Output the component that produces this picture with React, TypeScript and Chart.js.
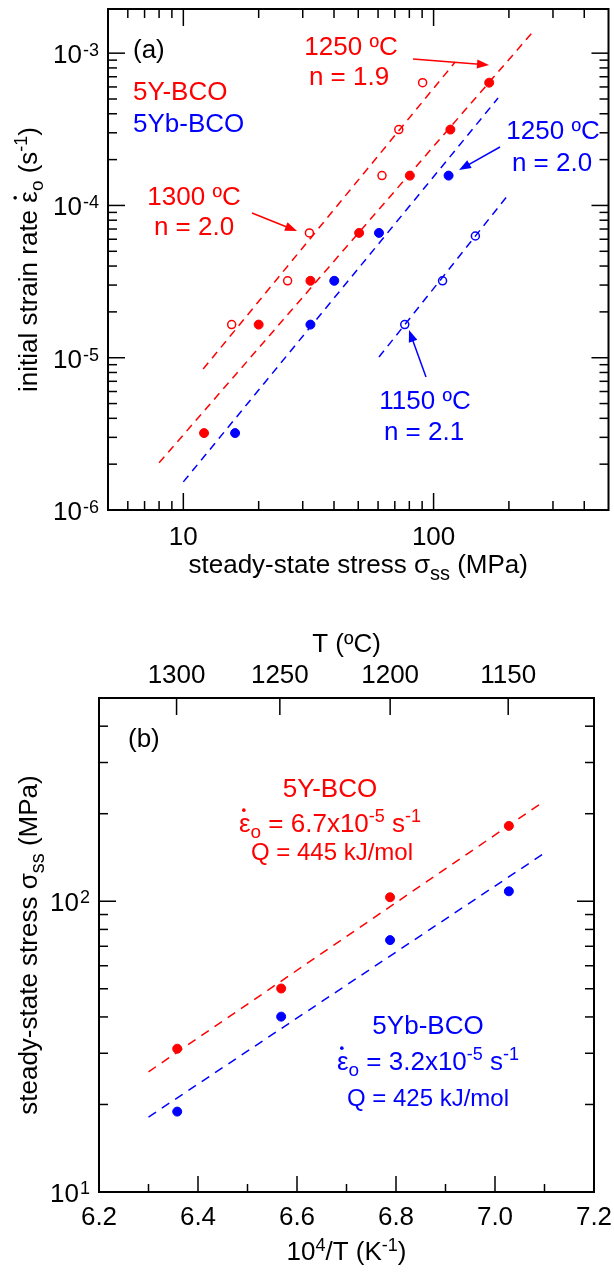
import React, { useEffect, useRef } from 'react';
import { Chart, registerables } from 'chart.js';

Chart.register(...registerables);

const FONT = '"Liberation Sans", Arial, Helvetica, sans-serif';
const RED = '#ff0000';
const BLUE = '#0000ff';
const BASE = 26;
const SUP = 18;

// ---------------- Panel (a): strain rate vs stress ----------------
const aY1250Stress = [12.1, 20.0, 32.2, 50.4, 80.4, 116.7, 166.8];
const aY1250Rate = [3.2e-6, 1.65e-5, 3.2e-5, 6.6e-5, 1.57e-4, 3.15e-4, 6.4e-4];
const aY1300Stress = [15.6, 26.1, 31.9, 62.2, 72.6, 90.4];
const aY1300Rate = [1.65e-5, 3.2e-5, 6.6e-5, 1.57e-4, 3.15e-4, 6.4e-4];
const aYb1250Stress = [16.1, 32.2, 40.1, 60.5, 114.8];
const aYb1250Rate = [3.2e-6, 1.65e-5, 3.2e-5, 6.6e-5, 1.57e-4];
const aYb1150Stress = [76.7, 108.6, 146.9];
const aYb1150Rate = [1.65e-5, 3.2e-5, 6.3e-5];

// fitted lines (end points)
const aFitY1250X = [8.0, 247];
const aFitY1250Y = [2.04e-6, 1.355e-3];
const aFitY1300X = [12.0, 122];
const aFitY1300Y = [8.43e-6, 8.75e-4];
const aFitYb1250X = [10, 181];
const aFitYb1250Y = [1.53e-6, 5.07e-4];
const aFitYb1150X = [60.5, 200];
const aFitYb1150Y = [1.01e-5, 1.19e-4];

const aXMin = 5;
const aXMax = 500;
const aYMin = 1e-6;
const aYMax = 1.95e-3;
const aXTicks = [6, 7, 8, 9, 10, 20, 30, 40, 50, 60, 70, 80, 90, 100, 200, 300, 400];
const aXLabels = [10, 100];
const aYMantissa = [1, 2, 3, 4, 5, 6, 7, 8, 9];
const aYExponents = [-6, -5, -4, -3];

// ---------------- Panel (b): stress vs 1e4/T ----------------
const bInvT = [6.358, 6.568, 6.788, 7.028];
const bYStress = [31.1, 50.1, 103.2, 181.6];
const bYbStress = [18.9, 40.1, 73.5, 108.2];
const bFitX = [6.3, 7.1];
const bFitY = [25.9, 221];
const bFitYb = [18.1, 146.4];

const bXMin = 6.2;
const bXMax = 7.2;
const bYMin = 10;
const bYMax = 500;
const bXTicks = [6.3, 6.4, 6.5, 6.6, 6.7, 6.8, 6.9, 7.0, 7.1];
const bXMajor = [6.4, 6.6, 6.8, 7.0];
const bXLabels = [6.2, 6.4, 6.6, 6.8, 7.0, 7.2];
const bTopTempC = [1300, 1250, 1200, 1150];
const bYTicks = [20, 30, 40, 50, 60, 70, 80, 90, 100, 200, 300, 400];
const bYExponents = [1, 2];

const pts = (xs: number[], ys: number[]) => xs.map((x, i) => ({ x, y: ys[i] }));

type Seg = { t: string; size?: number; dy?: number; dot?: boolean };

function drawRich(
  ctx: CanvasRenderingContext2D,
  segs: Seg[],
  x: number,
  y: number,
  align: 'left' | 'center' | 'right',
  color: string,
  base = BASE
) {
  ctx.save();
  ctx.fillStyle = color;
  ctx.textBaseline = 'alphabetic';
  ctx.textAlign = 'left';
  const widths = segs.map((s) => {
    ctx.font = `${s.size ?? base}px ${FONT}`;
    return ctx.measureText(s.t).width;
  });
  const total = widths.reduce((a, b) => a + b, 0);
  let cx = align === 'left' ? x : align === 'center' ? x - total / 2 : x - total;
  segs.forEach((s, i) => {
    const sz = s.size ?? base;
    ctx.font = `${sz}px ${FONT}`;
    ctx.fillText(s.t, cx, y + (s.dy ?? 0));
    if (s.dot) {
      ctx.beginPath();
      ctx.arc(cx + widths[i] * 0.42, y + (s.dy ?? 0) - sz * 0.84, sz * 0.07, 0, Math.PI * 2);
      ctx.fill();
    }
    cx += widths[i];
  });
  ctx.restore();
}

function arrow(ctx: CanvasRenderingContext2D, x1: number, y1: number, x2: number, y2: number, color: string) {
  const a = Math.atan2(y2 - y1, x2 - x1);
  const c = Math.cos(a);
  const s = Math.sin(a);
  const L = 12;
  const W = 4.5;
  ctx.save();
  ctx.strokeStyle = color;
  ctx.fillStyle = color;
  ctx.lineWidth = 1.5;
  ctx.beginPath();
  ctx.moveTo(x1, y1);
  ctx.lineTo(x2 - L * 0.8 * c, y2 - L * 0.8 * s);
  ctx.stroke();
  ctx.beginPath();
  ctx.moveTo(x2, y2);
  ctx.lineTo(x2 - L * c + W * s, y2 - L * s - W * c);
  ctx.lineTo(x2 - L * c - W * s, y2 - L * s + W * c);
  ctx.closePath();
  ctx.fill();
  ctx.restore();
}

function seg(ctx: CanvasRenderingContext2D, x1: number, y1: number, x2: number, y2: number) {
  ctx.beginPath();
  ctx.moveTo(x1, y1);
  ctx.lineTo(x2, y2);
  ctx.stroke();
}

const isDecade = (v: number) => Math.abs(Math.log10(v) - Math.round(Math.log10(v))) < 1e-9;

const panelAPlugin = {
  id: 'panelA',
  afterDraw(chart: any) {
    const ctx: CanvasRenderingContext2D = chart.ctx;
    const ca = chart.chartArea;
    const sx = chart.scales.x;
    const sy = chart.scales.y;
    ctx.save();
    ctx.strokeStyle = '#000';
    ctx.lineWidth = 1.5;
    aXTicks.forEach((v) => {
      const p = sx.getPixelForValue(v);
      const L = isDecade(v) ? 17 : 9;
      seg(ctx, p, ca.bottom, p, ca.bottom - L);
      seg(ctx, p, ca.top, p, ca.top + L);
    });
    aYExponents.forEach((e) => {
      aYMantissa.forEach((m) => {
        const v = m * Math.pow(10, e);
        if (v > aYMax) return;
        const p = sy.getPixelForValue(v);
        const L = m === 1 ? 17 : 9;
        seg(ctx, ca.left, p, ca.left + L, p);
        seg(ctx, ca.right, p, ca.right - L, p);
      });
    });
    ctx.lineWidth = 2;
    ctx.strokeRect(ca.left, ca.top, ca.right - ca.left, ca.bottom - ca.top);
    ctx.restore();

    aXLabels.forEach((v) => {
      drawRich(ctx, [{ t: String(v) }], sx.getPixelForValue(v), ca.bottom + 35, 'center', '#000');
    });
    aYExponents.forEach((e) => {
      const p = sy.getPixelForValue(Math.pow(10, e));
      drawRich(ctx, [{ t: '10' }], ca.left - 26, p + 10, 'right', '#000');
      drawRich(ctx, [{ t: String(e), size: SUP }], ca.left - 25, p + 3, 'left', '#000');
    });

    drawRich(
      ctx,
      [{ t: 'steady-state stress σ' }, { t: 'ss', size: 20, dy: 7 }, { t: ' (MPa)' }],
      (ca.left + ca.right) / 2,
      573,
      'center',
      '#000'
    );
    ctx.save();
    ctx.translate(37, (ca.top + ca.bottom) / 2);
    ctx.rotate(-Math.PI / 2);
    drawRich(
      ctx,
      [
        { t: 'initial strain rate ' },
        { t: 'ε', dot: true },
        { t: 'o', size: 19, dy: 6 },
        { t: ' (s' },
        { t: '-1', size: SUP, dy: -10 },
        { t: ')' },
      ],
      0,
      0,
      'center',
      '#000'
    );
    ctx.restore();

    drawRich(ctx, [{ t: '(a)' }], 133, 58, 'left', '#000');
    drawRich(ctx, [{ t: '5Y-BCO' }], 133, 100, 'left', RED);
    drawRich(ctx, [{ t: '5Yb-BCO' }], 133, 132, 'left', BLUE);

    drawRich(ctx, [{ t: '1300 ºC' }], 194, 205, 'center', RED);
    drawRich(ctx, [{ t: 'n = 2.0' }], 194, 235, 'center', RED);
    arrow(ctx, 252, 213, 297, 231, RED);

    drawRich(ctx, [{ t: '1250 ºC' }], 351, 55, 'center', RED);
    drawRich(ctx, [{ t: 'n = 1.9' }], 349, 85, 'center', RED);
    arrow(ctx, 413, 59, 489, 65, RED);

    drawRich(ctx, [{ t: '1250 ºC' }], 553, 139, 'center', BLUE);
    drawRich(ctx, [{ t: 'n = 2.0' }], 552, 171, 'center', BLUE);
    arrow(ctx, 500, 147, 459, 170, BLUE);

    drawRich(ctx, [{ t: '1150 ºC' }], 425, 409, 'center', BLUE);
    drawRich(ctx, [{ t: 'n = 2.1' }], 424, 440, 'center', BLUE);
    arrow(ctx, 426, 377, 409, 330, BLUE);
  },
};

const panelBPlugin = {
  id: 'panelB',
  afterDraw(chart: any) {
    const ctx: CanvasRenderingContext2D = chart.ctx;
    const ca = chart.chartArea;
    const sx = chart.scales.x;
    const sy = chart.scales.y;
    ctx.save();
    ctx.strokeStyle = '#000';
    ctx.lineWidth = 1.5;
    bXTicks.forEach((v) => {
      const p = sx.getPixelForValue(v);
      const L = bXMajor.some((m) => Math.abs(m - v) < 1e-9) ? 16 : 8;
      seg(ctx, p, ca.bottom, p, ca.bottom - L);
    });
    bTopTempC.forEach((t) => {
      const p = sx.getPixelForValue(1e4 / (t + 273.15));
      seg(ctx, p, ca.top, p, ca.top + 17);
    });
    bYTicks.forEach((v) => {
      const p = sy.getPixelForValue(v);
      const L = isDecade(v) ? 17 : 9;
      seg(ctx, ca.left, p, ca.left + L, p);
      seg(ctx, ca.right, p, ca.right - L, p);
    });
    ctx.lineWidth = 2;
    ctx.strokeRect(ca.left, ca.top, ca.right - ca.left, ca.bottom - ca.top);
    ctx.restore();

    bXLabels.forEach((v) => {
      drawRich(ctx, [{ t: v.toFixed(1) }], sx.getPixelForValue(v), ca.bottom + 33, 'center', '#000');
    });
    bTopTempC.forEach((t) => {
      drawRich(ctx, [{ t: String(t) }], sx.getPixelForValue(1e4 / (t + 273.15)), 83, 'center', '#000');
    });
    bYExponents.forEach((e) => {
      const p = sy.getPixelForValue(Math.pow(10, e));
      drawRich(ctx, [{ t: '10' }], ca.left - 20, p + 10, 'right', '#000');
      drawRich(ctx, [{ t: String(e), size: SUP }], ca.left - 19, p + 2, 'left', '#000');
    });

    drawRich(ctx, [{ t: 'T (ºC)' }], (ca.left + ca.right) / 2, 52, 'center', '#000');
    drawRich(
      ctx,
      [{ t: '10' }, { t: '4', size: SUP, dy: -9 }, { t: '/T (K' }, { t: '-1', size: SUP, dy: -9 }, { t: ')' }],
      (ca.left + ca.right) / 2,
      660,
      'center',
      '#000'
    );
    ctx.save();
    ctx.translate(37, (ca.top + ca.bottom) / 2);
    ctx.rotate(-Math.PI / 2);
    drawRich(
      ctx,
      [{ t: 'steady-state stress σ' }, { t: 'ss', size: 20, dy: 7 }, { t: ' (MPa)' }],
      0,
      0,
      'center',
      '#000'
    );
    ctx.restore();

    drawRich(ctx, [{ t: '(b)' }], 128, 147, 'left', '#000');

    drawRich(ctx, [{ t: '5Y-BCO' }], 330, 197, 'center', RED);
    drawRich(
      ctx,
      [
        { t: 'ε', dot: true },
        { t: 'o', size: 19, dy: 6 },
        { t: ' = 6.7x10' },
        { t: '-5', size: SUP, dy: -10 },
        { t: ' s' },
        { t: '-1', size: SUP, dy: -10 },
      ],
      330,
      232,
      'center',
      RED
    );
    drawRich(ctx, [{ t: 'Q = 445 kJ/mol', size: 24 }], 332, 260, 'center', RED);

    drawRich(ctx, [{ t: '5Yb-BCO' }], 428, 434, 'center', BLUE);
    drawRich(
      ctx,
      [
        { t: 'ε', dot: true },
        { t: 'o', size: 19, dy: 6 },
        { t: ' = 3.2x10' },
        { t: '-5', size: SUP, dy: -10 },
        { t: ' s' },
        { t: '-1', size: SUP, dy: -10 },
      ],
      428,
      470,
      'center',
      BLUE
    );
    drawRich(ctx, [{ t: 'Q = 425 kJ/mol', size: 24 }], 428, 506, 'center', BLUE);
  },
};

function fitLine(data: { x: number; y: number }[], color: string, dash: number[]) {
  return {
    type: 'line' as const,
    data,
    borderColor: color,
    borderWidth: 1.5,
    borderDash: dash,
    pointRadius: 0,
    showLine: true,
    fill: false,
    order: 2,
  };
}

function filled(data: { x: number; y: number }[], color: string, r: number) {
  return {
    type: 'scatter' as const,
    data,
    pointRadius: r,
    pointBackgroundColor: color,
    pointBorderColor: color,
    pointBorderWidth: 1,
    order: 1,
  };
}

function open(data: { x: number; y: number }[], color: string, r: number) {
  return {
    type: 'scatter' as const,
    data,
    pointRadius: r,
    pointBackgroundColor: 'rgba(0,0,0,0)',
    pointBorderColor: color,
    pointBorderWidth: 1.5,
    order: 1,
  };
}

function makeA(canvas: HTMLCanvasElement) {
  return new Chart(canvas, {
    type: 'scatter',
    data: {
      datasets: [
        filled(pts(aY1250Stress, aY1250Rate), RED, 4.5),
        open(pts(aY1300Stress, aY1300Rate), RED, 4),
        filled(pts(aYb1250Stress, aYb1250Rate), BLUE, 4.5),
        open(pts(aYb1150Stress, aYb1150Rate), BLUE, 4),
        fitLine(pts(aFitY1250X, aFitY1250Y), RED, [8, 6]),
        fitLine(pts(aFitY1300X, aFitY1300Y), RED, [8, 6]),
        fitLine(pts(aFitYb1250X, aFitYb1250Y), BLUE, [8, 6]),
        fitLine(pts(aFitYb1150X, aFitYb1150Y), BLUE, [8, 6]),
      ] as any,
    },
    options: {
      responsive: false,
      animation: false,
      devicePixelRatio: 1,
      events: [],
      layout: { padding: { left: 108, right: 2, top: 9, bottom: 90 } },
      plugins: { legend: { display: false }, tooltip: { enabled: false } },
      scales: {
        x: { type: 'logarithmic', min: aXMin, max: aXMax, display: false },
        y: { type: 'logarithmic', min: aYMin, max: aYMax, display: false },
      },
    },
    plugins: [panelAPlugin],
  });
}

function makeB(canvas: HTMLCanvasElement) {
  return new Chart(canvas, {
    type: 'scatter',
    data: {
      datasets: [
        filled(pts(bInvT, bYStress), RED, 4.5),
        filled(pts(bInvT, bYbStress), BLUE, 4.5),
        fitLine(pts(bFitX, bFitY), RED, [9, 7]),
        fitLine(pts(bFitX, bFitYb), BLUE, [9, 7]),
      ] as any,
    },
    options: {
      responsive: false,
      animation: false,
      devicePixelRatio: 1,
      events: [],
      layout: { padding: { left: 99, right: 20, top: 98, bottom: 81 } },
      plugins: { legend: { display: false }, tooltip: { enabled: false } },
      scales: {
        x: { type: 'linear', min: bXMin, max: bXMax, display: false },
        y: { type: 'logarithmic', min: bYMin, max: bYMax, display: false },
      },
    },
    plugins: [panelBPlugin],
  });
}

function ChartCanvas({ w, h, make }: { w: number; h: number; make: (c: HTMLCanvasElement) => Chart }) {
  const ref = useRef<HTMLCanvasElement>(null);
  useEffect(() => {
    const c = make(ref.current as HTMLCanvasElement);
    return () => c.destroy();
  }, [make]);
  return <canvas ref={ref} width={w} height={h} style={{ display: 'block', width: w, height: h }} />;
}

export default function App() {
  useEffect(() => {
    document.body.style.margin = '0';
  }, []);
  return (
    <div style={{ width: 614, background: '#fff' }}>
      <ChartCanvas w={614} h={600} make={makeA} />
      <ChartCanvas w={614} h={673} make={makeB} />
    </div>
  );
}
